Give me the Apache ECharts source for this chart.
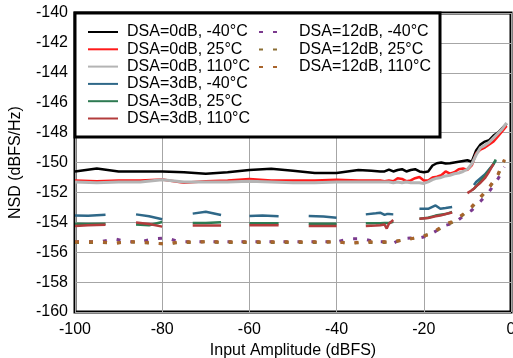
<!DOCTYPE html>
<html><head><meta charset="utf-8">
<script src="https://cdn.jsdelivr.net/npm/echarts@6/dist/echarts.min.js"></script>
<style>html,body{margin:0;padding:0;background:#fff}#c{width:513px;height:358px}</style>
</head><body><div id="c"></div>
<script>
// ---- data ----
const X0 = [-100,-95,-90,-85,-80,-75,-70,-65,-60,-55,-50,-45,-40,-35,-32,-30,-29,-28,-27,-26,-25,-24,-23,-22,-21,-20,-19,-18,-17,-16,-15,-14,-13,-12,-11,-10,-9,-8,-7,-6,-5,-4,-3,-2,-1];
const dsa0_m40 = [-150.6,-150.4,-150.6,-150.6,-150.6,-150.65,-150.75,-150.65,-150.5,-150.42,-150.55,-150.7,-150.7,-150.5,-150.55,-150.6,-150.6,-150.47,-150.6,-150.5,-150.45,-150.6,-150.5,-150.45,-150.6,-150.65,-150.6,-150.2,-150.05,-150.0,-150.07,-150.05,-150.0,-149.95,-149.9,-149.85,-149.95,-149.2,-148.8,-148.6,-148.5,-148.2,-148.0,-147.7,-147.4];
const dsa0_25 = [-151.2,-151.25,-151.2,-151.2,-151.13,-151.35,-151.25,-151.2,-151.1,-151.2,-151.2,-151.2,-151.15,-151.2,-151.2,-151.2,-151.25,-151.2,-151.25,-151.05,-151.1,-151.25,-151.2,-151.05,-150.97,-151.2,-151.2,-151.0,-150.95,-150.85,-150.6,-150.75,-150.65,-150.45,-150.4,-150.5,-150.2,-149.4,-149.13,-149.0,-148.8,-148.6,-148.25,-147.9,-147.55];
const dsa0_110 = [-151.3,-151.35,-151.3,-151.3,-151.15,-151.3,-151.3,-151.3,-151.25,-151.3,-151.35,-151.35,-151.3,-151.3,-151.3,-151.3,-151.3,-151.3,-151.35,-151.3,-151.35,-151.3,-151.35,-151.35,-151.35,-151.4,-151.3,-151.15,-151.05,-151.0,-150.9,-150.85,-150.75,-150.7,-150.6,-150.45,-150.1,-149.5,-149.0,-148.85,-148.65,-148.35,-148.05,-147.75,-147.35];

const X3 = [-100,-97,-93,-90,-86,-83,-80,-77,-73,-70,-66.5,-63,-60,-57,-53.3,-50,-46.4,-43,-40,-37,-33.3,-31,-30,-29,-28.5,-28,-27,-24,-21,-19,-17.3,-16.2,-15,-13.5,-12,-10,-9,-8.5,-8,-7,-6,-5,-4,-3.5];
const dsa3_m40 = [-153.55,-153.57,-153.5,null,-153.47,-153.6,-153.8,null,-153.42,-153.29,-153.51,null,-153.58,-153.55,-153.6,null,-153.58,-153.62,-153.69,null,-153.47,-153.4,-153.36,-153.5,-153.45,-153.45,-153.47,null,-153.09,-153.1,-152.87,-153.1,-153.05,-152.98,null,null,null,-151.5,-151.3,-151.05,-150.8,-150.45,-150.1,-149.85];
const dsa3_25 = [-154.1,-154.12,-154.1,null,-154.15,-154.2,-153.98,null,-154.05,-154.05,-154.0,null,-154.07,-154.07,-154.07,null,-154.1,-154.1,-154.1,null,-154.07,-154.07,-154.07,-154.05,-154.05,-154.05,-153.96,null,-153.76,-153.7,-153.55,-153.5,-153.45,-153.31,null,null,-151.85,-151.75,-151.6,-151.25,-150.9,-150.5,-150.1,-149.8];
const dsa3_110 = [-154.25,-154.2,-154.17,null,-154.02,-154.12,-154.29,null,-154.22,-154.22,-154.22,null,-154.2,-154.2,-154.2,null,-154.25,-154.25,-154.25,null,-154.25,-154.22,-154.2,-154.15,-154.42,-154.1,-153.85,null,-153.76,-153.72,-153.6,-153.55,-153.45,-153.35,null,-152.05,-151.85,-151.75,-151.6,-151.35,-151.05,-150.6,-150.1,null];

const X12 = [-100,-97,-94,-91,-88,-85,-82,-79,-76,-73,-70,-67,-64,-61,-58,-55,-52,-49,-46,-43,-40,-37,-34,-31,-29,-27,-25,-23,-21,-19,-17,-15,-13,-11,-9,-7,-5,-3,-1.5];
const dsa12_m40 = [-155.3,-155.3,-155.3,-155.1,-155.3,-155.3,-155.1,-155.05,-155.3,-155.3,-155.3,-155.3,-155.3,-155.3,-155.3,-155.3,-155.3,-155.3,-155.3,-155.3,-155.3,-155.1,-155.1,-155.3,-155.3,-155.4,-155.1,-155.05,-155.05,-154.9,-154.55,-154.2,-154.05,-153.6,-153.2,-152.6,-151.95,-151.1,-150.3];
const dsa12_25 = [-155.35,-155.35,-155.35,-155.4,-155.3,-155.35,-155.4,-155.45,-155.35,-155.35,-155.3,-155.35,-155.35,-155.35,-155.35,-155.35,-155.35,-155.35,-155.35,-155.35,-155.3,-155.4,-155.35,-155.35,-155.35,-155.3,-155.2,-155.1,-155.0,-154.8,-154.55,-154.2,-153.95,-153.5,-153.0,-152.35,-151.7,-150.85,-149.85];
const dsa12_110 = [-155.3,-155.3,-155.3,-155.4,-155.3,-155.3,-155.4,-155.45,-155.3,-155.3,-155.3,-155.3,-155.3,-155.3,-155.3,-155.3,-155.3,-155.3,-155.3,-155.3,-155.3,-155.4,-155.3,-155.3,-155.3,-155.3,-155.2,-155.1,-155.0,-154.85,-154.5,-154.1,-153.9,-153.45,-152.95,-152.3,-151.65,-150.8,-149.8];

const names = ['DSA=0dB, -40°C','DSA=0dB, 25°C','DSA=0dB, 110°C','DSA=3dB, -40°C','DSA=3dB, 25°C','DSA=3dB, 110°C','DSA=12dB, -40°C','DSA=12dB, 25°C','DSA=12dB, 110°C'];

// ---- build ----
function zip(xs, ys){ return xs.map((x,i)=>[x, ys[i]==null ? null : ys[i]]); }
const FONT = 'Arial, "Liberation Sans", sans-serif';
const colors = ['#000000','#ff1a1a','#b4b4b4','#2f6888','#2e7a52','#b33c3c','#7b3a8e','#8b6f35','#a8642c'];
const sets = [[X0,dsa0_m40],[X0,dsa0_25],[X0,dsa0_110],[X3,dsa3_m40],[X3,dsa3_25],[X3,dsa3_110],[X12,dsa12_m40],[X12,dsa12_25],[X12,dsa12_110]];
const widths = [2.5,2.5,3,2.5,2.5,2.5,3,3,3];
const series = sets.map((s,i)=>({
  name: names[i], type:'line', symbol:'none', connectNulls:false, animation:false,
  data: zip(s[0], s[1]),
  lineStyle: {color: colors[i], width: widths[i], type: i>=6 ? [4,10] : 'solid', cap:'butt'},
  itemStyle: {color: colors[i]},
  z: 5
}));

const legendCommon = {orient:'vertical', top:24, padding:0, z:100, itemHeight:16,
  itemStyle:{opacity:0, borderWidth:0},
  inactiveColor:'#000'};

const chart = echarts.init(document.getElementById('c'), null, {renderer:'canvas'});
chart.setOption({
  animation:false,
  backgroundColor:'#fff',
  textStyle:{fontFamily:FONT},
  grid:{left:75, right:2, top:13, bottom:46, show:true, borderColor:'#000', borderWidth:3, backgroundColor:'transparent', containLabel:false, outerBoundsMode:'none'},
  xAxis:{type:'value', min:-100, max:0, interval:20,
    name:'Input Amplitude (dBFS)', nameLocation:'middle', nameGap:24,
    nameTextStyle:{fontSize:16, color:'#000', fontFamily:FONT},
    axisLine:{show:false}, axisTick:{show:false},
    axisLabel:{fontSize:16, color:'#000', margin:10, fontFamily:FONT},
    splitLine:{show:true, lineStyle:{color:'#a6a6a6', width:1}}},
  yAxis:{type:'value', min:-160, max:-140, interval:2,
    name:'NSD (dBFS/Hz)', nameLocation:'middle', nameGap:51,
    nameTextStyle:{fontSize:16, color:'#000', fontFamily:FONT},
    axisLine:{show:false}, axisTick:{show:false},
    axisLabel:{fontSize:16, color:'#000', margin:7, fontFamily:FONT},
    splitLine:{show:true, lineStyle:{color:'#a6a6a6', width:1}}},
  graphic:[{type:'rect', z:50, shape:{x:75, y:13, width:365, height:124},
    style:{fill:'#fff', stroke:'#000', lineWidth:3}}],
  legend:[
    Object.assign({}, legendCommon, {id:'lg1', data:names.slice(0,6), left:87,
     itemWidth:30, itemGap:1.3,
     textStyle:{fontSize:16, color:'#000', fontFamily:FONT, lineHeight:16, padding:[0,0,0,4]}}),
    Object.assign({}, legendCommon, {id:'lg2', data:names.slice(6), left:258,
     itemWidth:20, itemGap:1.5,
     textStyle:{fontSize:16, color:'#000', fontFamily:FONT, lineHeight:16, padding:[0,0,0,15]}})
  ],
  series: series
});
</script></body></html>
